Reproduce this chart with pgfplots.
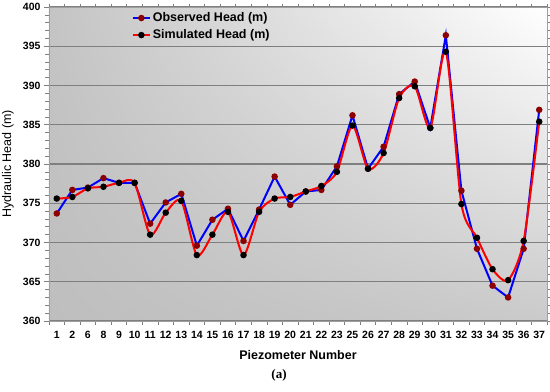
\documentclass[border=0pt]{standalone}
\usepackage{fontspec}
\setmainfont{Liberation Sans}
\newfontfamily\seriffont{Liberation Serif}
\usepackage{pgfplots}
\usepackage{pgfplotstable}
\usetikzlibrary{shadings}
\pgfplotsset{compat=1.18}
\definecolor{obsmark}{HTML}{8B0000}
\definecolor{gridc}{HTML}{7F7F7F}
\definecolor{bgll}{RGB}{190,190,190}
\definecolor{bgul}{RGB}{196,196,196}
\definecolor{bglr}{RGB}{202,202,202}

\pgfplotstableread{
i obs sim
0 373.7 375.6
1 376.7 375.8
2 377.0 376.9
3 378.2 377.1
4 377.6 377.6
5 377.6 377.6
6 372.4 371.0
7 375.1 373.8
8 376.2 375.3
9 369.6 368.4
10 372.9 371.0
11 374.3 373.9
12 370.2 368.4
13 374.2 373.9
14 378.4 375.6
15 374.8 375.8
16 376.5 376.5
17 376.7 377.2
18 379.7 379.0
19 386.2 384.9
20 379.4 379.4
21 382.2 381.4
22 388.9 388.4
23 390.5 389.9
24 384.6 384.6
25 396.4 394.3
26 376.6 374.9
27 369.2 370.6
28 364.5 366.6
29 363.0 365.2
30 369.2 370.2
31 386.9 385.4
}\data

\begin{document}
\begin{tikzpicture}
\begin{axis}[
  at={(0,0)}, anchor=south west,
  scale only axis, width=498bp, height=314bp,
  xmin=-0.5, xmax=31.5, ymin=360, ymax=400,
  axis background/.style={lower left=bgll, upper left=bgul, upper right=white, lower right=bglr},
  xtick={0,...,31},
  xticklabels={\textbf{1},\textbf{2},\textbf{6},\textbf{8},\textbf{9},\textbf{10},\textbf{11},\textbf{12},\textbf{13},\textbf{14},\textbf{15},\textbf{16},\textbf{17},\textbf{18},\textbf{19},\textbf{20},\textbf{21},\textbf{22},\textbf{23},\textbf{25},\textbf{26},\textbf{27},\textbf{28},\textbf{29},\textbf{30},\textbf{31},\textbf{32},\textbf{33},\textbf{34},\textbf{35},\textbf{36},\textbf{37}},
  yticklabel={\textbf{\pgfmathprintnumber{\tick}}},
  major x tick style={draw=none},
  minor xtick={-0.5,0.5,...,31.5},
  ytick={360,365,...,400}, minor y tick num=4,
  tick align=outside,
  major tick length=5bp, minor tick length=3.5bp,
  every tick/.style={gridc, line width=0.7bp},
  ymajorgrids,
  major grid style={gridc, line width=1.1bp},
  axis line style={draw=gray!75, line width=0.8bp},
  /pgf/number format/assume math mode=true,
  every tick label/.append style={font=\fontsize{10.5bp}{12bp}\selectfont\bfseries},
  xticklabel style={yshift=-2bp},
  xlabel={Piezometer Number},
  ylabel={Hydraulic Head (m)},
  every axis x label/.style={at={(axis description cs:0.5,0)}, yshift=-34bp, anchor=center, font=\fontsize{12.5bp}{14bp}\selectfont\bfseries},
  every axis y label/.style={at={(axis description cs:0,0.5)}, xshift=-41bp, rotate=90, anchor=center, font=\fontsize{12.5bp}{14bp}\selectfont},
  legend style={at={(axis description cs:0.16,0.995)}, anchor=north west, draw=none, fill=none,
    font=\fontsize{12.5bp}{14bp}\selectfont\bfseries, row sep=2.5bp},
  legend cell align=left,
  clip=false,
]
\addplot[blue, line width=2bp, mark=*, mark size=2.2bp, mark options={fill=obsmark, draw=obsmark}] table[x=i,y=obs]{\data};
\addlegendentry{Observed Head (m)}
\addplot[red, line width=2bp, smooth, tension=0.45, mark=*, mark size=2.2bp, mark options={fill=black, draw=black}] table[x=i,y=sim]{\data};
\addlegendentry{Simulated Head (m)}
\end{axis}
\node[font=\seriffont\bfseries\fontsize{13bp}{15bp}\selectfont] at (230bp,-54bp) {(a)};
\pgfresetboundingbox
\path (-49bp,-71bp) rectangle (501bp,321bp);
\end{tikzpicture}
\end{document}
